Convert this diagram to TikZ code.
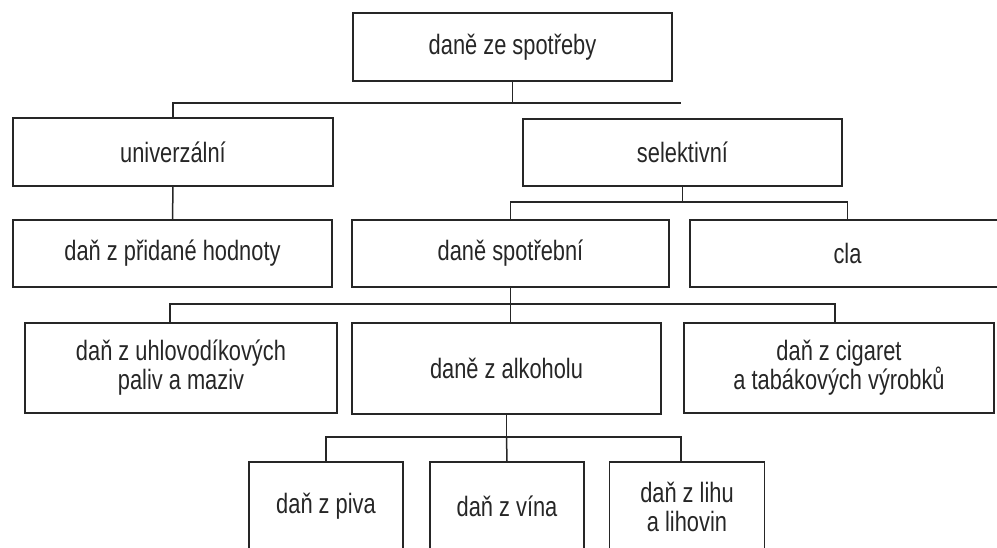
\documentclass[tikz,border=0pt]{standalone}
\usepackage{fontspec}
\setmainfont{Liberation Sans}[FakeStretch=0.78]
\definecolor{ink}{HTML}{262626}
\begin{document}
\begin{tikzpicture}[x=1pt,y=-1pt,
  box/.style={draw=ink, line width=1.8pt, inner sep=0pt, align=center, text=ink,
    font=\fontsize{28}{29}\selectfont},
  conn/.style={draw=ink, line width=1.5pt}]
\useasboundingbox (0,0) rectangle (997,548);
% boxes
\node[box, minimum width=319pt, minimum height=68pt] (top) at (512.5,47) {daně ze spotřeby};
\node[box, minimum width=320pt, minimum height=68pt] (univ) at (173,152) {univerzální};
\node[box, minimum width=319pt, minimum height=67pt] (sel) at (682.5,152.5) {selektivní};
\node[box, minimum width=319pt, minimum height=67pt] (dph) at (172.5,253.5) {daň z přidané hodnoty};
\node[box, minimum width=317pt, minimum height=67pt] (spotr) at (510.5,253.5) {daně spotřební};
\node[box, minimum width=315pt, minimum height=67pt] (cla) at (847.5,253.5) {cla};
\node[box, minimum width=312pt, minimum height=90pt] (uhl) at (181,368) {daň z uhlovodíkových\\paliv a maziv};
\node[box, minimum width=309pt, minimum height=91pt] (alk) at (506.5,368.5) {daně z alkoholu};
\node[box, minimum width=310pt, minimum height=90pt] (cig) at (839,368) {daň z cigaret\\a tabákových výrobků};
\node[box, minimum width=154pt, minimum height=89pt] (piva) at (326,506.5) {daň z piva};
\node[box, minimum width=154pt, minimum height=89pt] (vina) at (507,506.5) {daň z vína};
\node[box, minimum width=155pt, minimum height=89pt] (lihu) at (687,506.5) {daň z lihu\\a lihovin};
% junction coordinates
\coordinate (h1) at (681,103);
\coordinate (h2) at (680,202);
\coordinate (h3) at (835,304);
\coordinate (h4) at (681,437);
% connectors
\draw[conn] (top.south) -- (top.south |- h1);
\draw[conn] (univ.north) |- (h1);
\draw[conn] (univ.south) -- (dph.north);
\draw[conn] (sel.south) -- (sel.south |- h2);
\draw[conn] (spotr.north) |- (h2) -| (cla.north);
\draw[conn] (spotr.south) -- (spotr.south |- h3);
\draw[conn] ([xshift=-11pt]uhl.north) |- (h3) -- (h3 |- cig.north);
\draw[conn] (spotr.south |- h3) -- (spotr.south |- alk.north);
\draw[conn] (alk.south) -- (alk.south |- h4);
\draw[conn] (piva.north) |- (h4) -- (h4 |- lihu.north);
\draw[conn] (alk.south |- h4) -- (vina.north);
\end{tikzpicture}
\end{document}
